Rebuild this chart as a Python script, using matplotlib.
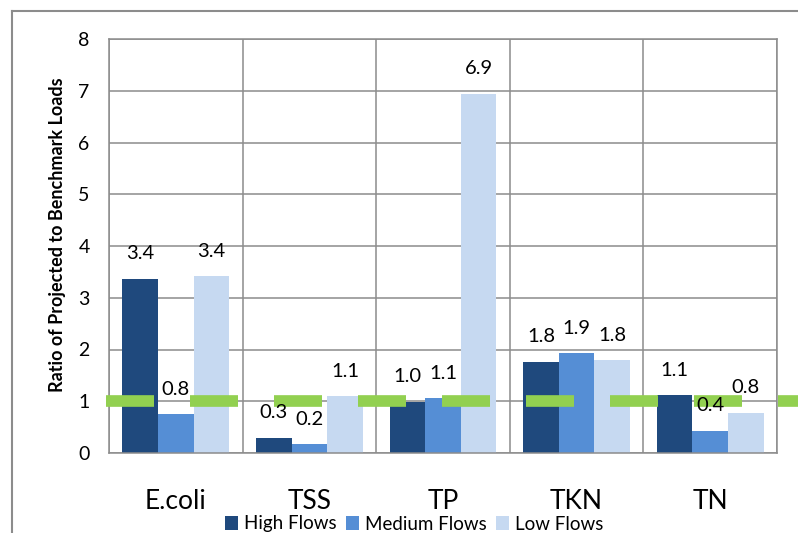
import numpy as np
import matplotlib
matplotlib.use("Agg")
import matplotlib.pyplot as plt
from matplotlib.lines import Line2D

# ---------- data ----------
categories = ["E.coli", "TSS", "TP", "TKN", "TN"]
series_names = ["High Flows", "Medium Flows", "Low Flows"]
high_flows = [3.37, 0.29, 0.99, 1.76, 1.12]
medium_flows = [0.75, 0.17, 1.06, 1.93, 0.43]
low_flows = [3.42, 1.10, 6.94, 1.79, 0.78]
benchmark = 1.0

colors = ["#1F497D", "#558ED5", "#C6D9F1"]
green = "#92D050"
grid_gray = "#8C8C8C"

plt.rcParams["font.family"] = ["Lato", "DejaVu Sans"]
plt.rcParams["lines.scale_dashes"] = False

fig = plt.figure(figsize=(7.98, 5.33), dpi=100)
ax = fig.add_axes([109 / 798, 80 / 533, 668 / 798, 414 / 533])

x = np.arange(len(categories))
w = 0.8 / 3
for i, (vals, name) in enumerate(zip([high_flows, medium_flows, low_flows], series_names)):
    pos = x + (i - 1) * w
    ax.bar(pos, vals, width=w, color=colors[i], label=name, zorder=2)
    for xp, v in zip(pos, vals):
        ax.annotate(f"{v:.1f}", (xp, v), xytext=(0, 18), textcoords="offset points",
                    ha="center", va="center", fontsize=14.5, color="#000000", zorder=4)

# benchmark line (long dashes, runs past the plot area)
ax.plot([-0.522, 4.8], [benchmark, benchmark], color=green, lw=8.4,
        dashes=(34.56, 25.92), solid_capstyle="butt", dash_capstyle="butt",
        clip_on=False, zorder=3)

ax.set_xlim(-0.5, len(categories) - 0.5)
ax.set_ylim(0, 8)
ax.set_yticks(range(0, 9))
ax.set_xticks(x)
ax.set_xticklabels(categories, fontsize=19)
ax.set_xticks(np.arange(-0.5, len(categories)), minor=True)
ax.tick_params(axis="x", which="both", length=0, pad=26)
ax.tick_params(axis="y", length=0, pad=14, labelsize=14)
ax.grid(True, axis="y", color=grid_gray, lw=1.1, zorder=0)
ax.grid(True, axis="x", which="minor", color=grid_gray, lw=1.1, zorder=0)
ax.grid(False, axis="x", which="major")
ax.set_axisbelow(True)
for s in ax.spines.values():
    s.set_color(grid_gray)
    s.set_linewidth(1.1)

fig.text(58 / 798, 1 - 235 / 533, "Ratio of Projected to Benchmark Loads",
         rotation=90, ha="center", va="center", fontsize=13, fontweight="bold")

fig.legend(loc="center", bbox_to_anchor=(0.519, 1 - 524 / 533), ncol=3,
           frameon=False, fontsize=13.5, handlelength=0.7, handleheight=0.7,
           handletextpad=0.3, columnspacing=0.5, borderpad=0)

# outer chart frame (left and top edges visible)
fig.add_artist(Line2D([11.5 / 798, 11.5 / 798], [0, 1 - 10.5 / 533], color=grid_gray, lw=1.5))
fig.add_artist(Line2D([11.5 / 798, 1], [1 - 10.5 / 533, 1 - 10.5 / 533], color=grid_gray, lw=1.5))

fig.savefig("out.png", dpi=100)
